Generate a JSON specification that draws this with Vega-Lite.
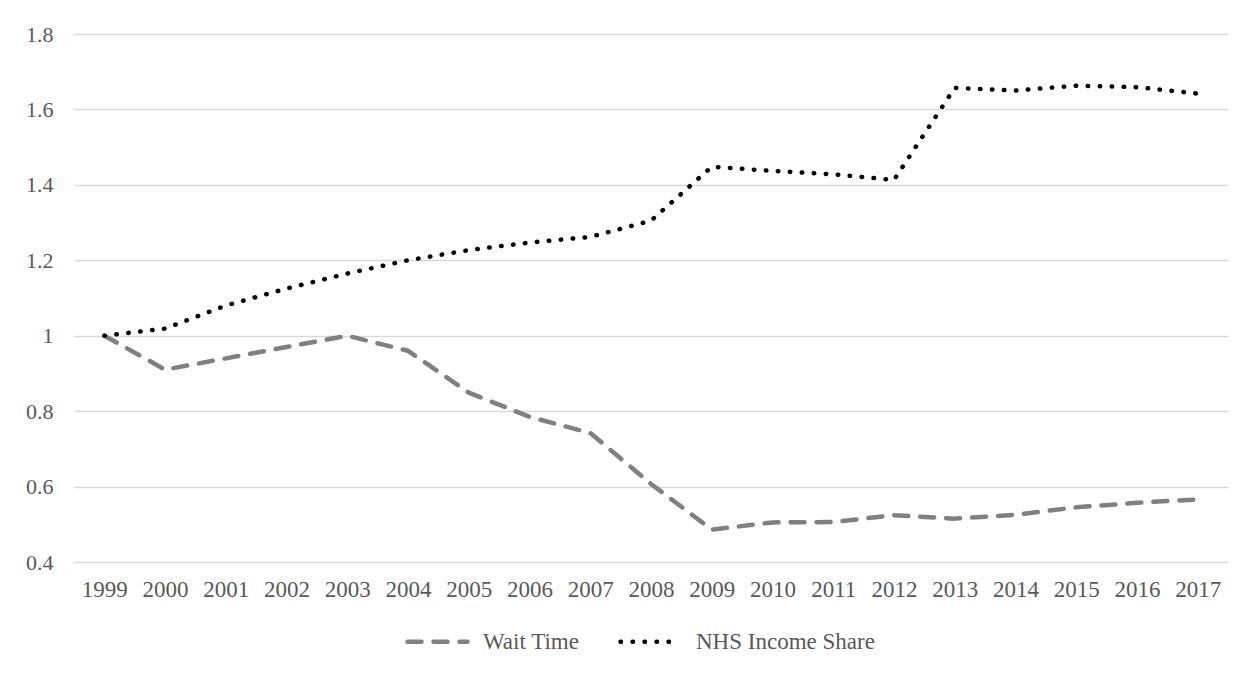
{
  "$schema": "https://vega.github.io/schema/vega-lite/v6.json",
  "width": 1154,
  "height": 528,
  "autosize": "none",
  "padding": {"left": 74, "top": 34, "right": 25, "bottom": 113},
  "background": "white",
  "config": {
    "view": {"stroke": null},
    "font": "Liberation Serif, Times New Roman, serif",
    "axis": {
      "labelFont": "Liberation Serif, Times New Roman, serif",
      "labelFontSize": 22,
      "labelColor": "#595959",
      "ticks": false,
      "domain": false,
      "title": null
    },
    "legend": {
      "labelFont": "Liberation Serif, Times New Roman, serif",
      "labelFontSize": 23,
      "labelColor": "#595959",
      "labelLimit": 400
    }
  },
  "data": {
    "values": [
      {"year": "1999", "series": "Wait Time", "value": 1.0},
      {"year": "2000", "series": "Wait Time", "value": 0.91},
      {"year": "2001", "series": "Wait Time", "value": 0.94},
      {"year": "2002", "series": "Wait Time", "value": 0.97},
      {"year": "2003", "series": "Wait Time", "value": 1.0},
      {"year": "2004", "series": "Wait Time", "value": 0.96},
      {"year": "2005", "series": "Wait Time", "value": 0.849},
      {"year": "2006", "series": "Wait Time", "value": 0.785},
      {"year": "2007", "series": "Wait Time", "value": 0.742},
      {"year": "2008", "series": "Wait Time", "value": 0.607},
      {"year": "2009", "series": "Wait Time", "value": 0.486},
      {"year": "2010", "series": "Wait Time", "value": 0.505},
      {"year": "2011", "series": "Wait Time", "value": 0.506},
      {"year": "2012", "series": "Wait Time", "value": 0.524},
      {"year": "2013", "series": "Wait Time", "value": 0.515},
      {"year": "2014", "series": "Wait Time", "value": 0.525},
      {"year": "2015", "series": "Wait Time", "value": 0.545},
      {"year": "2016", "series": "Wait Time", "value": 0.557},
      {"year": "2017", "series": "Wait Time", "value": 0.566},
      {"year": "1999", "series": "NHS Income Share", "value": 1.0},
      {"year": "2000", "series": "NHS Income Share", "value": 1.019},
      {"year": "2001", "series": "NHS Income Share", "value": 1.08},
      {"year": "2002", "series": "NHS Income Share", "value": 1.125},
      {"year": "2003", "series": "NHS Income Share", "value": 1.165},
      {"year": "2004", "series": "NHS Income Share", "value": 1.2},
      {"year": "2005", "series": "NHS Income Share", "value": 1.227},
      {"year": "2006", "series": "NHS Income Share", "value": 1.247},
      {"year": "2007", "series": "NHS Income Share", "value": 1.262},
      {"year": "2008", "series": "NHS Income Share", "value": 1.305},
      {"year": "2009", "series": "NHS Income Share", "value": 1.448},
      {"year": "2010", "series": "NHS Income Share", "value": 1.437},
      {"year": "2011", "series": "NHS Income Share", "value": 1.428},
      {"year": "2012", "series": "NHS Income Share", "value": 1.413},
      {"year": "2013", "series": "NHS Income Share", "value": 1.657},
      {"year": "2014", "series": "NHS Income Share", "value": 1.65},
      {"year": "2015", "series": "NHS Income Share", "value": 1.663},
      {"year": "2016", "series": "NHS Income Share", "value": 1.659},
      {"year": "2017", "series": "NHS Income Share", "value": 1.642}
    ]
  },
  "mark": {"type": "line", "interpolate": "linear", "strokeWidth": 4.5, "strokeCap": "round", "strokeJoin": "round"},
  "encoding": {
    "x": {
      "field": "year",
      "type": "ordinal",
      "scale": {"type": "point", "padding": 0.5},
      "axis": {"labelAngle": 0, "labelPadding": 16, "labelFontSize": 23, "grid": false}
    },
    "y": {
      "field": "value",
      "type": "quantitative",
      "scale": {"domain": [0.4, 1.8], "nice": false, "zero": false},
      "axis": {
        "values": [0.4, 0.6, 0.8, 1.0, 1.2, 1.4, 1.6, 1.8],
        "format": "~g",
        "labelPadding": 21,
        "grid": true,
        "gridColor": "#d9d9d9",
        "gridWidth": 1.5
      }
    },
    "color": {
      "field": "series",
      "type": "nominal",
      "scale": {"domain": ["Wait Time", "NHS Income Share"], "range": ["#808080", "#000000"]},
      "legend": {
        "title": null,
        "orient": "none",
        "direction": "horizontal",
        "legendX": 331,
        "legendY": 575,
        "symbolType": "stroke",
        "symbolSize": 3600,
        "symbolStrokeWidth": 4.5,
        "labelOffset": 13,
        "columnPadding": 31,
        "encode": {"symbols": {"update": {"strokeCap": {"value": "round"}}}}
      }
    },
    "strokeDash": {
      "field": "series",
      "type": "nominal",
      "scale": {"domain": ["Wait Time", "NHS Income Share"], "range": [[14, 12], [0.5, 11.5]]},
      "legend": {
        "title": null,
        "orient": "none",
        "direction": "horizontal",
        "legendX": 331,
        "legendY": 575,
        "symbolType": "stroke",
        "symbolSize": 3600,
        "symbolStrokeWidth": 4.5,
        "labelOffset": 13,
        "columnPadding": 31,
        "encode": {"symbols": {"update": {"strokeCap": {"value": "round"}}}}
      }
    }
  }
}
